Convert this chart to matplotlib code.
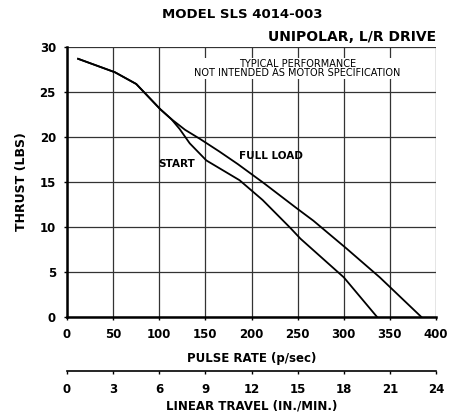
import matplotlib
matplotlib.use("Agg")
import matplotlib.pyplot as plt

# pulse rate (p/sec) vs thrust (lbs)
start_x = [12, 52, 75, 101, 113, 122, 133, 151, 169, 187, 212, 242, 253, 300, 336]
start_y = [28.7, 27.2, 25.9, 23.1, 22.0, 20.9, 19.3, 17.4, 16.3, 15.2, 13.0, 9.9, 8.7, 4.4, 0]
full_x = [12, 52, 75, 101, 113, 128, 144, 165, 185, 213, 250, 267, 303, 339, 384]
full_y = [28.7, 27.2, 25.9, 23.1, 22.0, 20.8, 19.8, 18.4, 17.0, 14.9, 12.0, 10.7, 7.6, 4.4, 0]

pulse_ticks = list(range(0, 401, 50))
travel_ticks = list(range(0, 25, 3))
thrust_ticks = list(range(0, 31, 5))

plt.rcParams['font.family'] = 'DejaVu Sans'
plt.rcParams['font.weight'] = 'bold'

fig = plt.figure(figsize=(4.5, 4.17), dpi=100)
ax = fig.add_axes([0.149, 0.240, 0.820, 0.647])

ax.plot(start_x, start_y, color='black', lw=1.3)
ax.plot(full_x, full_y, color='black', lw=1.3)

ax.set_xlim(0, 400)
ax.set_ylim(0, 30)
ax.set_xticks(pulse_ticks)
ax.set_yticks(thrust_ticks)
ax.tick_params(labelsize=8.5, length=2, width=1, pad=6)
ax.grid(True, color='#333333', lw=0.9)
for s in ['top', 'right']:
    ax.spines[s].set_visible(False)
ax.spines['left'].set_linewidth(1.8)
ax.spines['bottom'].set_linewidth(1.8)

ax.set_xlabel('PULSE RATE (p/sec)', fontsize=8.5, fontweight='bold', labelpad=8)
ax.set_ylabel('THRUST (LBS)', fontsize=9, fontweight='bold', labelpad=8)

sec = ax.secondary_xaxis(-0.2, functions=(lambda v: v * 24 / 400, lambda v: v * 400 / 24))
sec.set_xticks(travel_ticks)
sec.tick_params(labelsize=8.5, length=2, width=1, pad=7)
sec.spines['bottom'].set_linewidth(1.2)
sec.set_xlabel('LINEAR TRAVEL (IN./MIN.)', fontsize=8.5, fontweight='bold', labelpad=2)

ax.text(119, 17.0, 'START', fontsize=7.5, fontweight='bold', ha='center', va='center')
ax.text(186, 17.9, 'FULL LOAD', fontsize=7.5, fontweight='bold', ha='left', va='center')
ax.text(250, 27.6, 'TYPICAL PERFORMANCE\nNOT INTENDED AS MOTOR SPECIFICATION',
        fontsize=7, fontweight='normal', ha='center', va='center', linespacing=0.85,
        bbox=dict(facecolor='white', edgecolor='none', pad=1))

fig.text(0.538, 0.966, 'MODEL SLS 4014-003', fontsize=9.5, fontweight='bold', ha='center', va='center')
fig.text(0.969, 0.912, 'UNIPOLAR, L/R DRIVE', fontsize=10, fontweight='bold', ha='right', va='center')

fig.savefig('out.png', dpi=100)
